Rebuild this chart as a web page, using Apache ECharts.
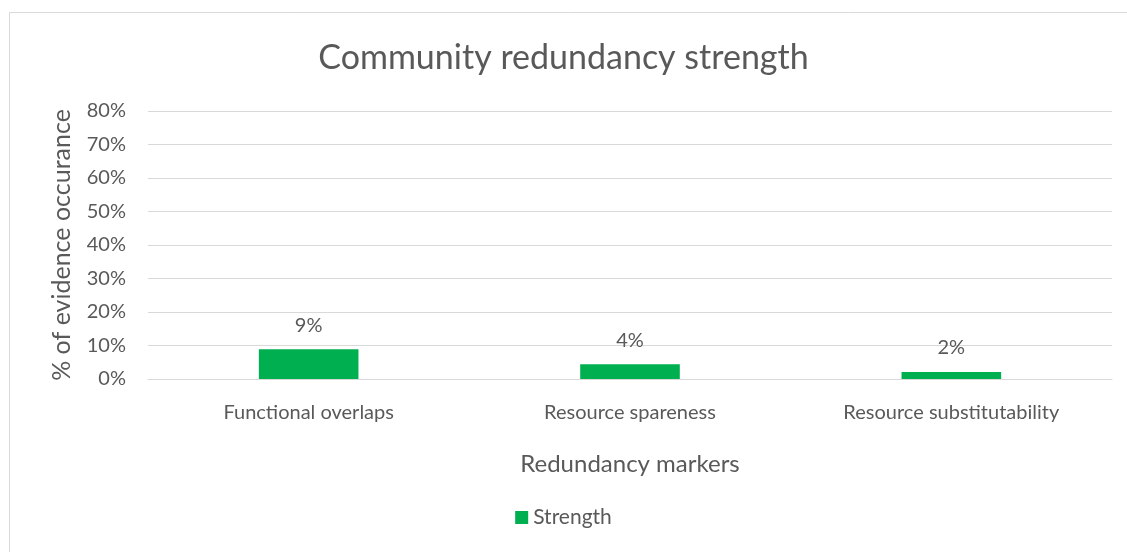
<!DOCTYPE html>
<html lang="en">
<head>
    <meta charset="UTF-8">
    <title>Community redundancy strength</title>
    <script src="https://cdn.jsdelivr.net/npm/echarts@6/dist/echarts.min.js"></script>
    <style>
        html, body { margin: 0; padding: 0; background: #fff; }
        #main { width: 1127px; height: 552px; }
    </style>
</head>
<body>
    <div id="main"></div>
    <script>
        // 数据
        var categories = ['Functional overlaps', 'Resource spareness', 'Resource substitutability'];
        var strength = [0.089, 0.044, 0.021];
        var seriesName = 'Strength';

        var textColor = '#595959';
        var fontName = 'Lato';

        var chart = echarts.init(document.getElementById('main'));
        chart.setOption({
            animation: false,
            backgroundColor: '#fff',
            // 图表外框
            graphic: [{
                type: 'rect',
                shape: { x: 9.5, y: 12.5, width: 1130, height: 560 },
                style: { fill: 'none', stroke: '#d9d9d9', lineWidth: 1 }
            }],
            title: {
                text: 'Community redundancy strength',
                left: 'center',
                top: 36,
                textStyle: { color: textColor, fontSize: 34, fontWeight: 'normal', fontFamily: fontName }
            },
            legend: {
                data: [seriesName],
                bottom: 19,
                left: 'center',
                itemWidth: 13,
                itemHeight: 13,
                itemGap: 7,
                icon: 'rect',
                textStyle: { color: textColor, fontSize: 21, fontFamily: fontName }
            },
            grid: { left: 148, right: 15, top: 111, height: 268 },
            xAxis: {
                type: 'category',
                data: categories,
                name: 'Redundancy markers',
                nameLocation: 'middle',
                nameGap: 73,
                nameTextStyle: { color: textColor, fontSize: 24, fontFamily: fontName },
                axisLine: { lineStyle: { color: '#d9d9d9' } },
                axisTick: { show: false },
                axisLabel: { color: textColor, fontSize: 20, fontFamily: fontName, margin: 24 }
            },
            yAxis: {
                type: 'value',
                min: 0,
                max: 0.8,
                interval: 0.1,
                name: '% of evidence occurance',
                nameLocation: 'middle',
                nameGap: 74,
                nameTextStyle: { color: textColor, fontSize: 25, fontFamily: fontName },
                axisLine: { show: false },
                axisTick: { show: false },
                splitLine: { lineStyle: { color: '#d9d9d9' } },
                axisLabel: {
                    color: textColor, fontSize: 20, fontFamily: fontName, margin: 22,
                    formatter: function (v) { return Math.round(v * 100) + '%'; }
                }
            },
            series: [{
                name: seriesName,
                type: 'bar',
                data: strength,
                barWidth: '31%',
                itemStyle: { color: '#00b050' },
                label: {
                    show: true,
                    position: 'top',
                    distance: 14,
                    color: textColor,
                    fontSize: 20,
                    fontFamily: fontName,
                    formatter: function (p) { return Math.round(p.value * 100) + '%'; }
                }
            }]
        });
    </script>
</body>
</html>
